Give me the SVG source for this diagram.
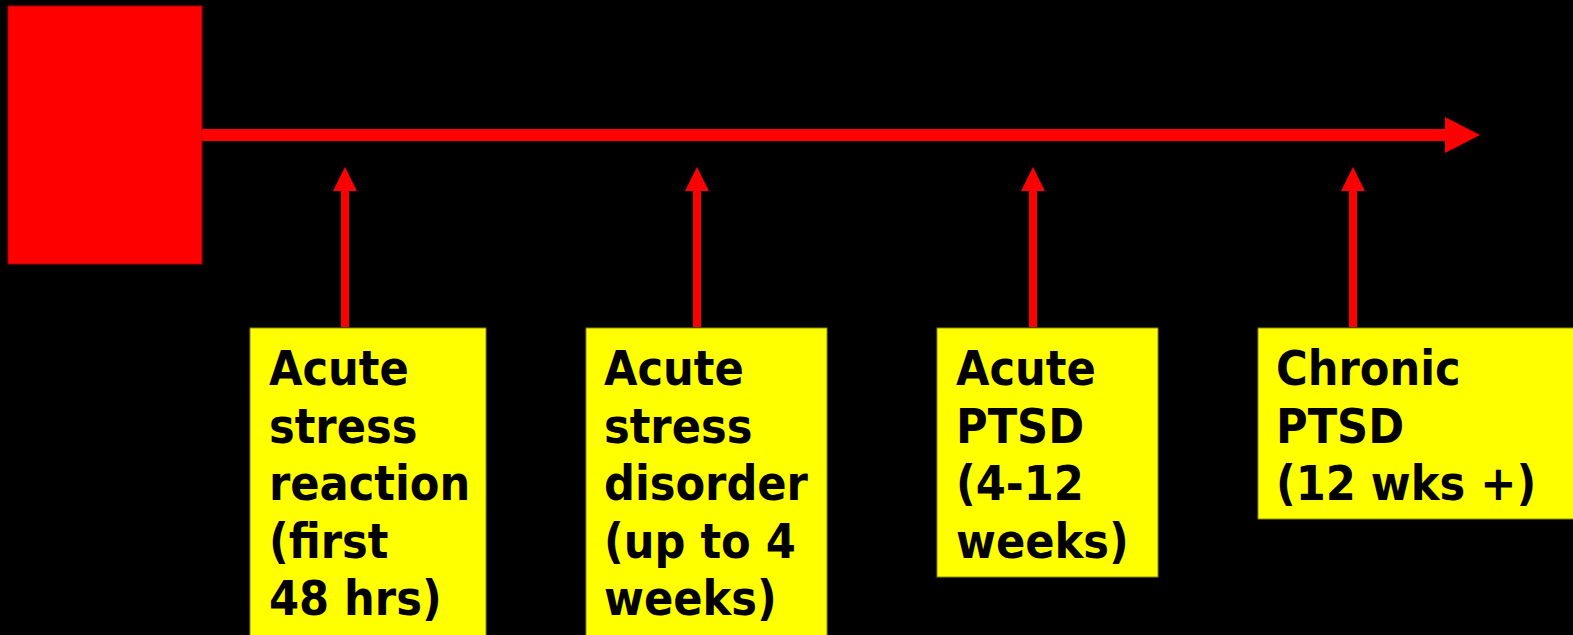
<svg xmlns="http://www.w3.org/2000/svg" width="1573" height="635" viewBox="0 0 1573 635">
  <defs>
    <style>
      .stage { fill: #ffff00; stroke: #8a8a00; stroke-width: 1; }
      .label { font-family: "DejaVu Sans Condensed", "DejaVu Sans", "Liberation Sans", sans-serif; font-stretch: condensed; font-weight: bold; font-size: 48px; fill: #000000; }
      .wire { stroke: #ff0000; fill: none; }
      .tip { fill: #ff0000; }
    </style>
  </defs>

  <rect x="0" y="0" width="1573" height="635" fill="#000000"/>

  <!-- trauma event block -->
  <g id="event">
    <rect x="8" y="6" width="194" height="258" fill="#ff0000" stroke="#b00000" stroke-width="1"/>
  </g>

  <!-- timeline and stage pointers -->
  <g id="connectors">
    <line class="wire" x1="202" y1="135" x2="1446" y2="135" stroke-width="12"/>
    <polygon class="tip" points="1445,117 1480,135 1445,153"/>

    <line class="wire" x1="345" y1="190" x2="345" y2="327" stroke-width="8"/>
    <polygon class="tip" points="333,191 345,167 357,191"/>

    <line class="wire" x1="697" y1="190" x2="697" y2="327" stroke-width="8"/>
    <polygon class="tip" points="685,191 697,167 709,191"/>

    <line class="wire" x1="1033" y1="190" x2="1033" y2="327" stroke-width="8"/>
    <polygon class="tip" points="1021,191 1033,167 1045,191"/>

    <line class="wire" x1="1353" y1="190" x2="1353" y2="327" stroke-width="8"/>
    <polygon class="tip" points="1341,191 1353,167 1365,191"/>
  </g>

  <g id="stage-acute-reaction">
    <rect class="stage" x="250" y="328" width="236" height="320"/>
    <text class="label">
      <tspan x="269" y="385">Acute</tspan>
      <tspan x="269" y="443">stress</tspan>
      <tspan x="269" y="500">reaction</tspan>
      <tspan x="269" y="558">(first</tspan>
      <tspan x="269" y="615">48 hrs)</tspan>
    </text>
  </g>

  <g id="stage-acute-disorder">
    <rect class="stage" x="586" y="328" width="241" height="320"/>
    <text class="label">
      <tspan x="604" y="385">Acute</tspan>
      <tspan x="604" y="443">stress</tspan>
      <tspan x="604" y="500">disorder</tspan>
      <tspan x="604" y="558">(up to 4</tspan>
      <tspan x="604" y="615">weeks)</tspan>
    </text>
  </g>

  <g id="stage-acute-ptsd">
    <rect class="stage" x="937" y="328" width="221" height="249"/>
    <text class="label">
      <tspan x="956" y="385">Acute</tspan>
      <tspan x="956" y="443">PTSD</tspan>
      <tspan x="956" y="500">(4-12</tspan>
      <tspan x="956" y="558">weeks)</tspan>
    </text>
  </g>

  <g id="stage-chronic-ptsd">
    <rect class="stage" x="1258" y="328" width="330" height="191"/>
    <text class="label">
      <tspan x="1276" y="385">Chronic</tspan>
      <tspan x="1276" y="443">PTSD</tspan>
      <tspan x="1276" y="500">(12 wks +)</tspan>
    </text>
  </g>
</svg>
